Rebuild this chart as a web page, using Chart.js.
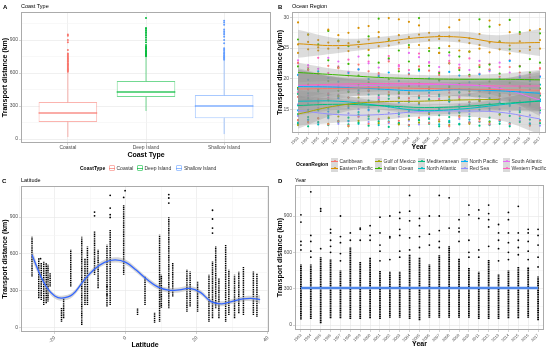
<!DOCTYPE html>
<html><head><meta charset="utf-8">
<script src="https://cdn.jsdelivr.net/npm/chart.js@4.4.1/dist/chart.umd.min.js"></script>
<style>
html,body{margin:0;padding:0;background:#fff;}
body{width:550px;height:349px;position:relative;overflow:hidden;font-family:'Liberation Sans',Arial,Helvetica,sans-serif;}
canvas{position:absolute;}
.t{position:absolute;white-space:nowrap;line-height:1;color:#000;}
.tag{font-weight:bold;font-size:6px;}
.sub{font-size:5.5px;}
.lgt{font-weight:bold;font-size:5px;}
.lgl{font-size:5px;color:#333;}
.key{position:absolute;box-sizing:border-box;}
</style></head><body>
<canvas id="cA" width="275" height="175" style="left:0;top:0"></canvas>
<canvas id="cB" width="275" height="175" style="left:275px;top:0"></canvas>
<canvas id="cC" width="275" height="174" style="left:0;top:175px"></canvas>
<canvas id="cD" width="275" height="174" style="left:275px;top:175px"></canvas>
<div class="t tag" style="left:3px;top:3.5px">A</div><div class="t sub" style="left:21px;top:3.5px">Coast Type</div>
<div class="t tag" style="left:278px;top:3.5px">B</div><div class="t sub" style="left:292px;top:3.5px">Ocean Region</div>
<div class="t tag" style="left:2px;top:177.5px">C</div><div class="t sub" style="left:21px;top:177.5px">Latitude</div>
<div class="t tag" style="left:278px;top:177.5px">D</div><div class="t sub" style="left:295px;top:177.5px">Year</div>
<div id="legA"></div><div id="legB"></div>
<script>
// ---------------- Panel A data ----------------
const coastTypes = ['Coastal', 'Deep Island', 'Shallow Island'];
const coastColors = ['#F8766D', '#00BA38', '#619CFF'];
const boxLow = [18, 255, 45];
const boxQ1 = [155, 382, 190];
const boxMedian = [236, 427, 300];
const boxQ3 = [336, 527, 400];
const boxHigh = [607, 745, 715];
const outCoastal = [612, 620, 628, 635, 642, 650, 660, 668, 675, 683, 690, 700, 708, 716, 725, 733, 742, 750, 760, 770, 778, 810, 880, 900, 940, 950];
const outDeep = [752, 760, 768, 776, 785, 793, 800, 810, 820, 830, 842, 855, 880, 900, 920, 940, 955, 970, 985, 1000, 1010, 1100];
const outShallow = [722, 730, 738, 746, 755, 765, 775, 785, 800, 812, 825, 870, 900, 930, 950, 965, 980, 995, 1040, 1060, 1075];
const distTicks = [0, 300, 600, 900];
const distMinor = [150, 450, 750, 1050];

// ---------------- Panel B data ----------------
const years = [1993, 1994, 1995, 1996, 1997, 1998, 1999, 2000, 2001, 2002, 2003, 2004, 2005, 2006, 2007, 2008, 2009, 2010, 2011, 2012, 2013, 2014, 2015, 2016, 2017];
const oceanRegions = ['Caribbean', 'Eastern Pacific', 'Gulf of Mexico', 'Indian Ocean', 'Mediterranean', 'North Atlantic', 'North Pacific', 'Red Sea', 'South Atlantic', 'Western Pacific'];
const regionColors = ['#F8766D', '#D89000', '#A3A500', '#39B600', '#00BF7D', '#00BFC4', '#00B0F6', '#9590FF', '#E76BF3', '#FF62BC'];
const rateTicks = [15, 20, 25, 30];
const rateMinor = [12.5, 17.5, 22.5, 27.5];
const fitYears = [1993, 1997, 2001, 2005, 2009, 2013, 2017];
const fitCaribbean = [18.3, 18.4, 18.5, 18.4, 18.3, 18.2, 18.1];
const fitEasternPacific = [25.7, 25.4, 25.9, 26.7, 26.8, 25.9, 25.9];
const fitGulfOfMexico = [14.2, 15.6, 16.2, 16.3, 16.5, 16.6, null];
const fitIndianOcean = [21.0, 20.6, 20.2, 20.0, 19.9, 19.9, 19.8];
const fitMediterranean = [15.6, 15.8, 15.6, 15.3, 15.4, 15.9, 16.3];
const fitNorthAtlantic = [16.3, 16.3, 15.6, 14.8, 15.0, 15.7, 16.4];
const fitNorthPacific = [18.7, 18.6, 18.3, 18.0, 18.2, 18.0, 17.6];
const fitRedSea = [14.8, 14.1, 14.1, 14.6, 14.7, 14.5, 13.4];
const fitSouthAtlantic = [18.8, 18.8, 18.9, 19.0, 19.0, 18.4, 16.5];
const fitWesternPacific = [18.9, 19.1, 19.2, 19.2, 19.0, 18.8, 18.8];
const seCaribbean = [3.2, 1.7, 1.2, 1.1, 1.2, 1.7, 3.2];
const seEasternPacific = [2.3, 1.2, 0.9, 0.8, 0.9, 1.2, 2.2];
const seGulfOfMexico = [2.4, 1.3, 0.9, 0.8, 0.9, 1.8, null];
const seIndianOcean = [1.6, 0.9, 0.7, 0.6, 0.7, 0.9, 1.6];
const seMediterranean = [1.6, 0.9, 0.6, 0.6, 0.6, 0.9, 1.6];
const seNorthAtlantic = [1.8, 1.0, 0.7, 0.6, 0.7, 1.0, 1.8];
const seNorthPacific = [3.0, 1.6, 1.1, 1.0, 1.1, 1.6, 3.0];
const seRedSea = [2.5, 1.3, 0.9, 0.8, 0.9, 1.3, 2.5];
const seSouthAtlantic = [2.6, 1.4, 1.0, 0.9, 1.0, 1.4, 2.6];
const seWesternPacific = [2.2, 1.2, 0.9, 0.8, 0.9, 1.2, 2.2];
const ptsCaribbean = [[22.6,17.0,13.2],[21.4,18.2,12.8],[20.8,16.6,13.5],[22.1,17.5,12.5],[21.7,18.8,13.0],[20.5,16.9,12.3],[22.3,17.4,13.8],[21.2,18.1,12.6],[20.9,16.3,13.4],[22.8,17.8,12.9],[21.6,18.4,13.1],[20.7,16.8,12.4],[22.0,17.2,13.6],[21.3,18.6,12.7],[20.6,16.5,13.3],[22.5,17.7,12.2],[21.8,18.3,13.7],[20.4,16.2,12.8],[22.2,17.9,13.0],[21.5,18.0,12.5],[20.3,16.7,13.2],[21.9,17.3,12.6],[21.0,18.5,13.9],[20.2,16.4,12.3],[21.7,17.6,13.1]];
const ptsEasternPacific = [[29.2,25.6,24.2],[27.2,26.0,24.8],[25.1,24.6,26.3],[28.0,25.9,24.9],[27.1,25.0,26.1],[27.5,24.5,25.8],[28.3,26.0,25.2],[28.6,26.4,24.7],[27.6,25.3,26.8],[29.9,26.5,25.4],[29.7,27.1,25.9],[29.3,26.8,25.1],[28.7,27.2,25.5],[27.5,26.3,25.0],[27.0,24.2,26.5],[28.4,26.9,25.3],[29.6,26.2,24.6],[26.6,25.8,24.4],[27.3,25.5,24.9],[29.5,25.9,24.3],[28.8,26.0,24.8],[27.6,25.4,24.1],[27.3,26.1,24.5],[27.9,25.2,24.7],[28.1,26.3,24.9]];
const ptsGulfOfMexico = [[13.2,12.4],[14.6,12.9],[15.8,13.5],[16.4,12.6],[17.1,13.8],[15.5,12.2],[16.9,13.1],[18.0,14.0],[16.2,12.7],[17.4,13.6],[16.8,12.5],[17.7,13.3],[16.0,12.8],[18.3,14.2],[24.2,13.0],[17.0,12.4],[16.6,13.9],[17.9,12.6],[16.3,13.4],[18.5,12.9],[17.2,14.1],[],[],[],[]];
const ptsIndianOcean = [[26.4,22.0,18.5],[27.2,21.5,19.0],[25.6,20.8,18.2],[27.8,23.0,19.6],[26.2,21.8,18.0],[25.3,22.4,17.8],[26.0,20.5,18.9],[26.9,23.8,19.4],[29.8,22.6,18.3],[26.3,23.3,19.9],[24.6,21.2,17.6],[25.5,22.8,18.8],[29.9,21.5,19.2],[24.5,22.1,18.4],[25.0,20.9,19.7],[24.3,22.5,18.6],[23.6,21.4,19.1],[24.4,20.6,18.2],[29.7,21.9,18.9],[28.5,22.3,19.5],[26.1,20.8,18.1],[29.6,24.8,19.3],[27.6,22.0,18.7],[23.2,21.0,19.0],[27.4,22.6,18.4]];
const ptsMediterranean = [[17.5,14.2,12.6],[16.8,13.7,12.2],[17.9,14.8,12.9],[16.5,13.9,12.4],[17.2,14.5,13.1],[16.9,13.6,12.5],[17.6,14.1,12.8],[16.4,13.8,12.3],[17.3,14.6,13.0],[16.7,13.5,12.1],[17.8,14.3,12.7],[16.2,13.9,12.4],[17.0,14.7,13.2],[16.6,13.4,12.6],[17.4,14.0,12.2],[16.3,13.7,12.9],[17.7,14.4,12.5],[16.1,13.8,12.8],[17.1,14.9,12.3],[16.8,13.6,13.0],[17.5,14.2,12.6],[16.4,13.9,12.2],[17.9,14.5,12.9],[16.6,13.3,12.4],[17.2,14.8,12.7]];
const ptsNorthAtlantic = [[18.2,15.6,12.8],[17.6,14.9,13.3],[18.8,16.2,12.5],[17.3,15.1,13.6],[18.5,14.7,12.9],[17.9,15.8,13.1],[18.1,14.5,12.6],[17.4,15.3,13.4],[18.6,14.8,12.4],[17.2,15.5,13.0],[16.9,14.2,12.7],[17.5,14.6,12.3],[16.8,14.9,13.2],[17.7,14.4,12.8],[17.1,15.0,12.5],[16.6,14.3,13.1],[17.8,15.2,12.6],[17.3,14.7,13.3],[18.0,15.4,12.9],[17.6,15.9,12.4],[18.4,16.1,13.0],[17.9,15.7,12.7],[18.7,16.3,13.5],[18.2,15.8,12.6],[19.0,16.6,13.2]];
const ptsNorthPacific = [[20.6,14.8],[19.8,15.9],[21.2,16.3],[20.1,14.6],[19.5,16.8],[20.9,15.2],[21.5,16.0],[19.9,14.9],[20.4,16.5],[21.0,15.4],[19.6,16.1],[20.8,14.7],[21.3,15.8],[20.0,16.6],[19.7,15.0],[21.1,16.2],[20.5,14.5],[19.4,15.7],[20.7,16.4],[21.4,15.1],[19.9,16.7],[22.9,15.5],[20.2,14.8],[19.6,15.9],[20.3,16.3]];
const ptsRedSea = [[15.8,13.9],[14.6,13.2],[15.2,12.8],[14.1,13.5],[15.5,12.6],[14.3,13.0],[15.0,13.7],[14.8,12.9],[15.6,13.3],[14.4,12.7],[15.3,13.8],[14.9,13.1],[15.9,12.5],[14.7,13.6],[15.1,13.0],[14.5,12.8],[15.7,13.4],[14.2,12.9],[15.4,13.5],[14.8,12.6],[15.0,13.2],[14.6,12.4],[15.2,13.1],[14.0,12.7],[14.4,12.3]];
const ptsSouthAtlantic = [[23.0,18.4],[22.2,17.2],[21.6,18.9],[23.4,17.6],[22.8,16.8],[21.1,18.2],[23.6,17.9],[22.5,18.6],[21.8,17.0],[23.1,19.2],[22.0,17.5],[24.2,18.0],[23.5,16.9],[22.7,18.5],[21.9,17.3],[23.8,18.8],[22.3,17.1],[21.4,18.3],[22.9,16.6],[21.2,17.8],[22.6,16.4],[21.0,17.4],[20.5,16.0],[19.8,15.6],[20.4,15.2]];
const ptsWesternPacific = [[22.5,17.8],[21.8,16.5],[23.4,18.2],[20.9,16.9],[22.0,17.4],[23.1,18.6],[21.5,16.2],[22.8,17.9],[20.6,16.8],[23.7,18.3],[22.2,17.0],[21.4,16.4],[24.1,18.8],[22.6,17.2],[21.1,16.7],[22.9,18.1],[21.7,16.9],[23.3,17.5],[20.8,16.3],[22.4,18.4],[21.9,17.1],[23.0,16.6],[22.1,17.7],[20.7,16.1],[21.6,17.3]];

// ---------------- Panel C data ----------------
const latTicks = [-20, 0, 20, 40];
const latMinor = [-30, -10, 10, 30];
const stripLat = [-26.4, -24.5, -23.8, -23.1, -22.4, -21.9, -21.3, -18.1, -17.5, -15.5, -12.4, -11.5, -10.8, -8.8, -7.8, -5.3, -4.4, -0.6, 3.3, 5.4, 8.1, 9.5, 10.0, 12.1, 13.2, 17.2, 18.1, 20.2, 23.4, 24.4, 25.3, 26.2, 28.1, 29.0, 30.6, 31.8, 33.1, 35.9, 36.9];
const stripMin = [415, 237, 224, 183, 196, 210, 333, 46, 74, 333, 19, 183, 183, 428, 319, 170, 183, 428, 100, 183, 38, 46, 160, 155, 251, 128, 170, 128, 46, 74, 155, 74, 46, 100, 74, 115, 100, 100, 87];
const stripMax = [742, 565, 524, 537, 524, 510, 442, 161, 237, 633, 742, 565, 660, 783, 633, 673, 800, 1000, 155, 415, 120, 755, 430, 900, 524, 470, 455, 374, 428, 537, 660, 400, 673, 470, 428, 455, 496, 455, 442];
const latOutLat = [-8.8, -8.8, -4.4, -4.4, -4.4, -4.4, -0.2, -0.6, 12.1, 12.1, 12.1, 24.4, 24.4, 24.4, 24.4, -24.0, -5.3, -5.3];
const latOutVal = [940, 910, 1077, 973, 919, 897, 1115, 1060, 1083, 1055, 1014, 955, 884, 810, 769, 560, 333, 265];
const fitLat = [-26.4, -24, -22, -20, -18, -15, -12, -9, -6, -3, 0, 3, 6, 9, 12, 15, 18, 21, 24, 27, 30, 33, 36, 37.8];
const fitLatVal = [592, 420, 315, 255, 238, 268, 375, 470, 530, 550, 530, 465, 390, 330, 303, 305, 318, 285, 210, 192, 212, 232, 235, 226];
const fitLatSe = [45, 25, 20, 20, 20, 20, 20, 20, 22, 22, 22, 20, 20, 20, 20, 20, 20, 20, 20, 20, 20, 20, 25, 35];

// ---------------- Panel D data ----------------
const yearDenseMin = [45, 50, 15, 55, 55, 50, 50, 55, 50, 60, 60, 50, 40, 60, 60, 60, 60, 60, 50, 50, 50, 55, 55, 60, 40];
const yearDenseMax = [500, 500, 560, 540, 450, 640, 520, 560, 450, 440, 440, 580, 560, 500, 580, 650, 550, 470, 440, 540, 420, 450, 480, 480, 400];
const yearExtra = [[620,660,690,850,910],[560,610,690,740,1100],[630,940,960],[600,650,700,760,790],[530,590,680,730,900],[700,760],[700,790,800],[700,740,820],[530,610,660,760,890],[540,720,730,900],[560,610,740,790,880,930],[620,720,860,940,1070],[640,730,820,880],[660,750,900],[640,690,780,900,1070],[800,1050],[690,770,800,870],[560,600,700,910,990],[560,620,880,950],[650,810,870,920,990],[530,630,700,760,830],[540,600,680,760,870,930],[580,640,700,760,980],[540,610,690,760,790],[480,560,660,740,790]];
const yearFitX = [1993, 2005, 2017];
const yearFitVal = [306, 306, 306];
const yearFitSe = [8, 5, 8];

// ---------------- helpers ----------------
const FONT = "'Liberation Sans', Arial, Helvetica, sans-serif";
Chart.defaults.font.family = FONT;
Chart.defaults.color = '#4D4D4D';
Chart.defaults.animation = false;
Chart.defaults.events = [];
Chart.defaults.plugins.legend.display = false;
Chart.defaults.plugins.tooltip.enabled = false;

function rgba(hex, a) {
  const n = parseInt(hex.slice(1), 16);
  return `rgba(${(n >> 16) & 255},${(n >> 8) & 255},${n & 255},${a})`;
}
const panelBorder = {
  id: 'panelBorder',
  afterDraw(chart) {
    const {ctx, chartArea: a} = chart;
    ctx.save();
    ctx.strokeStyle = '#ABABAB';
    ctx.lineWidth = 1;
    ctx.strokeRect(Math.round(a.left) + 0.5, Math.round(a.top) + 0.5, Math.round(a.right - a.left) - 1, Math.round(a.bottom - a.top) - 1);
    ctx.restore();
  }
};
function axis(o) {
  const majorSet = new Set(o.major);
  const all = o.major.concat(o.minor || []).sort((a, b) => a - b);
  const isMaj = c => c.tick && majorSet.has(c.tick.value);
  return {
    type: 'linear', min: o.min, max: o.max, offset: false,
    afterBuildTicks: s => { s.ticks = all.map(v => ({value: v})); },
    afterFit: s => { if (s.isHorizontal()) s.height = o.size; else s.width = o.size; },
    ticks: {
      autoSkip: false, font: {size: o.tickSize || 5}, color: '#4D4D4D', padding: o.tickPad ?? 1,
      minRotation: o.rot || 0, maxRotation: o.rot || 0,
      callback: v => majorSet.has(v) ? (o.labels ? o.labels[o.major.indexOf(v)] : String(v)) : ''
    },
    grid: {
      offset: false, lineWidth: 0.6, tickLength: 2, tickWidth: 0.6,
      color: c => isMaj(c) ? '#E6E6E6' : '#F3F3F3',
      tickColor: c => isMaj(c) ? '#B3B3B3' : 'rgba(0,0,0,0)'
    },
    border: {display: false},
    title: {display: !!o.title, text: o.title, color: '#000', font: {size: 7, weight: 'bold'}, padding: o.titlePad || {top: 1, bottom: 1}}
  };
}
// vertical dotted strips: one segment per column from its min to its max
function stripData(xs, mins, maxs) {
  const d = [];
  xs.forEach((x, i) => { d.push({x, y: mins[i]}, {x, y: maxs[i]}, {x, y: null}); });
  return d;
}

// ---------------- Chart A ----------------
(function () {
  const outliers = [outCoastal, outDeep, outShallow];
  const BOX_HALF = 0.375;
  const ds = [];
  coastTypes.forEach((c, i) => {
    const x = i + 1, col = coastColors[i];
    ds.push({type: 'line', data: [{x, y: boxLow[i]}, {x, y: boxQ1[i]}], borderColor: rgba(col, 0.55), borderWidth: 1, pointRadius: 0, order: 30});
    ds.push({type: 'line', data: [{x, y: boxQ3[i]}, {x, y: boxHigh[i]}], borderColor: rgba(col, 0.55), borderWidth: 1, pointRadius: 0, order: 30});
    ds.push({type: 'line', data: [{x: x - BOX_HALF, y: boxMedian[i]}, {x: x + BOX_HALF, y: boxMedian[i]}], borderColor: rgba(col, 0.8), borderWidth: 1.5, pointRadius: 0, order: 10});
    ds.push({type: 'scatter', data: outliers[i].map(v => ({x, y: v})), pointRadius: 1, backgroundColor: col, borderWidth: 0, order: 10});
  });
  ds.push({type: 'bar', data: coastTypes.map((c, i) => ({x: i + 1, y: [boxQ1[i], boxQ3[i]]})),
    backgroundColor: '#FFFFFF', borderColor: coastColors.map(c => rgba(c, 0.55)), borderWidth: 1, borderSkipped: false,
    barPercentage: 0.75, categoryPercentage: 1, grouped: false, order: 20});
  new Chart(document.getElementById('cA'), {
    type: 'scatter', data: {datasets: ds},
    options: {
      responsive: false, layout: {padding: {left: 0, top: 12, right: 3, bottom: 15}},
      scales: {
        x: axis({min: 0.4, max: 3.6, major: [1, 2, 3], labels: coastTypes, size: 17, title: 'Coast Type', tickPad: 0}),
        y: axis({min: -36, max: 1155, major: distTicks, minor: distMinor, size: 21, title: 'Transport distance (km)'})
      }
    },
    plugins: [panelBorder]
  });
  const leg = document.getElementById('legA');
  let h = '<div class="t lgt" style="left:80px;top:165.5px">CoastType</div>';
  const keyX = [108.5, 136.5, 176], labX = [116.5, 144.5, 184];
  coastTypes.forEach((c, i) => {
    const col = coastColors[i];
    h += `<div class="key" style="left:${keyX[i]}px;top:165px;width:6px;height:6px;border:1px solid ${rgba(col, 0.55)};border-radius:1px"></div>`;
    h += `<div class="key" style="left:${keyX[i]}px;top:167.6px;width:6px;height:0.9px;background:${rgba(col, 0.7)}"></div>`;
    h += `<div class="t lgl" style="left:${labX[i]}px;top:165.5px">${c}</div>`;
  });
  leg.innerHTML = h;
})();

// ---------------- Chart B ----------------
(function () {
  const fits = [fitCaribbean, fitEasternPacific, fitGulfOfMexico, fitIndianOcean, fitMediterranean, fitNorthAtlantic, fitNorthPacific, fitRedSea, fitSouthAtlantic, fitWesternPacific];
  const ses = [seCaribbean, seEasternPacific, seGulfOfMexico, seIndianOcean, seMediterranean, seNorthAtlantic, seNorthPacific, seRedSea, seSouthAtlantic, seWesternPacific];
  const pts = [ptsCaribbean, ptsEasternPacific, ptsGulfOfMexico, ptsIndianOcean, ptsMediterranean, ptsNorthAtlantic, ptsNorthPacific, ptsRedSea, ptsSouthAtlantic, ptsWesternPacific];
  const ds = [];
  oceanRegions.forEach((r, i) => {
    const col = regionColors[i];
    const p = [];
    pts[i].forEach((vals, k) => vals.forEach(v => p.push({x: years[k], y: v})));
    ds.push({type: 'scatter', data: p, pointRadius: 1.1, backgroundColor: col, borderWidth: 0, order: 30});
  });
  oceanRegions.forEach((r, i) => {
    const f = fits[i], s = ses[i];
    ds.push({type: 'line', data: fitYears.map((y, k) => ({x: y, y: f[k] == null ? null : f[k] + s[k]})), borderWidth: 0, pointRadius: 0, tension: 0.4,
      fill: '+1', backgroundColor: 'rgba(150,150,150,0.33)', order: 20});
    ds.push({type: 'line', data: fitYears.map((y, k) => ({x: y, y: f[k] == null ? null : f[k] - s[k]})), borderWidth: 0, pointRadius: 0, tension: 0.4, fill: false, order: 20});
  });
  oceanRegions.forEach((r, i) => {
    const f = fits[i];
    ds.push({type: 'line', data: fitYears.map((y, k) => ({x: y, y: f[k]})), borderColor: regionColors[i], borderWidth: 1, pointRadius: 0, tension: 0.4, fill: false, order: 10});
  });
  new Chart(document.getElementById('cB'), {
    type: 'scatter', data: {datasets: ds},
    options: {
      responsive: false, layout: {padding: {left: 0, top: 12, right: 3, bottom: 23}},
      scales: {
        x: axis({min: 1992.4, max: 2017.6, major: years, size: 19, title: 'Year', rot: 45, tickSize: 4}),
        y: axis({min: 11.1, max: 30.9, major: rateTicks, minor: rateMinor, size: 17, title: 'Transport distance (y/km)'})
      }
    },
    plugins: [panelBorder]
  });
  const leg = document.getElementById('legB');
  let h = '<div class="t lgt" style="left:296px;top:162px">OceanRegion</div>';
  const keyX = [331, 375, 418, 461, 503];
  const rowY = [161, 168];
  oceanRegions.forEach((r, i) => {
    const c = Math.floor(i / 2), rw = i % 2, col = regionColors[i];
    const kx = keyX[c], ky = rowY[rw] - 3.5;
    h += `<div class="key" style="left:${kx}px;top:${ky}px;width:7px;height:7px;background:#D9D9D9"></div>`;
    h += `<div class="key" style="left:${kx}px;top:${ky + 3}px;width:7px;height:1px;background:${col}"></div>`;
    h += `<div class="key" style="left:${kx + 2.5}px;top:${ky + 2.5}px;width:2px;height:2px;border-radius:1px;background:${col}"></div>`;
    h += `<div class="t lgl" style="left:${kx + 8.5}px;top:${rowY[rw] - 2.5}px">${r}</div>`;
  });
  leg.innerHTML = h;
})();

// ---------------- Chart C ----------------
(function () {
  const ds = [];
  ds.push({type: 'line', data: stripData(stripLat, stripMin, stripMax), borderColor: '#000', borderWidth: 1.5, borderDash: [1.2, 0.6],
    borderCapStyle: 'butt', pointRadius: 0, tension: 0, spanGaps: false, fill: false, order: 30});
  ds.push({type: 'scatter', data: latOutLat.map((x, i) => ({x, y: latOutVal[i]})), pointRadius: 0.9, backgroundColor: '#000', borderWidth: 0, order: 30});
  ds.push({type: 'line', data: fitLat.map((x, i) => ({x, y: fitLatVal[i] + fitLatSe[i]})), borderWidth: 0, pointRadius: 0, tension: 0.4,
    fill: '+1', backgroundColor: 'rgba(153,153,153,0.4)', order: 20});
  ds.push({type: 'line', data: fitLat.map((x, i) => ({x, y: fitLatVal[i] - fitLatSe[i]})), borderWidth: 0, pointRadius: 0, tension: 0.4, fill: false, order: 20});
  ds.push({type: 'line', data: fitLat.map((x, i) => ({x, y: fitLatVal[i]})), borderColor: '#3366FF', borderWidth: 1.3, pointRadius: 0, tension: 0.4, fill: false, order: 10});
  new Chart(document.getElementById('cC'), {
    type: 'scatter', data: {datasets: ds},
    options: {
      responsive: false, layout: {padding: {left: 0, top: 11, right: 6, bottom: 0}},
      scales: {
        x: axis({min: -29.5, max: 40.3, major: latTicks, minor: latMinor, size: 17, title: 'Latitude', rot: 45, titlePad: {top: 0, bottom: 0}}),
        y: axis({min: -38, max: 1153, major: distTicks, minor: distMinor, size: 21, title: 'Transport distance (km)'})
      }
    },
    plugins: [panelBorder]
  });
})();

// ---------------- Chart D ----------------
(function () {
  const ds = [];
  ds.push({type: 'line', data: stripData(years, yearDenseMin, yearDenseMax), borderColor: '#000', borderWidth: 1.8, borderDash: [1.3, 0.5],
    borderCapStyle: 'butt', pointRadius: 0, tension: 0, spanGaps: false, fill: false, order: 30});
  const p = [];
  yearExtra.forEach((vals, k) => vals.forEach(v => p.push({x: years[k], y: v})));
  ds.push({type: 'scatter', data: p, pointRadius: 0.9, backgroundColor: '#000', borderWidth: 0, order: 30});
  ds.push({type: 'line', data: yearFitX.map((x, i) => ({x, y: yearFitVal[i] + yearFitSe[i]})), borderWidth: 0, pointRadius: 0, fill: '+1', backgroundColor: 'rgba(153,153,153,0.4)', order: 20});
  ds.push({type: 'line', data: yearFitX.map((x, i) => ({x, y: yearFitVal[i] - yearFitSe[i]})), borderWidth: 0, pointRadius: 0, fill: false, order: 20});
  ds.push({type: 'line', data: yearFitX.map((x, i) => ({x, y: yearFitVal[i]})), borderColor: '#4F86E8', borderWidth: 2.4, pointRadius: 0, fill: false, order: 10});
  new Chart(document.getElementById('cD'), {
    type: 'scatter', data: {datasets: ds},
    options: {
      responsive: false, layout: {padding: {left: 0, top: 10, right: 6, bottom: 0}},
      scales: {
        x: axis({min: 1992.4, max: 2017.6, major: years, size: 19, title: 'Year', rot: 45, tickSize: 4, titlePad: {top: 0, bottom: 0.8}}),
        y: axis({min: -41, max: 1156, major: distTicks, minor: distMinor, size: 20, title: 'Transport distance (km)'})
      }
    },
    plugins: [panelBorder]
  });
})();
</script>
</body></html>
